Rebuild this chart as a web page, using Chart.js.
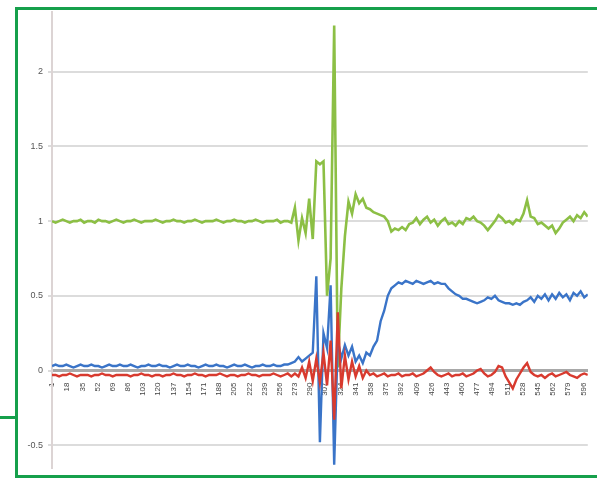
<!DOCTYPE html>
<html>
<head>
<meta charset="utf-8">
<script src="https://cdn.jsdelivr.net/npm/chart.js@4.4.1/dist/chart.umd.min.js"></script>
<style>
  html, body { margin: 0; padding: 0; background: #fff; overflow: hidden; }
  #wrap { position: relative; width: 597px; height: 478px; }
  #marco { position: absolute; left: 15px; top: 7px; width: 620px; height: 471px; box-sizing: border-box; border: 3px solid #16a04b; pointer-events: none; }
  #linea { position: absolute; left: 0; top: 416px; width: 17px; height: 3px; background: #16a04b; }
</style>
</head>
<body>
<div id="wrap">
  <canvas id="myChart" width="597" height="478"></canvas>
  <div id="marco"></div>
  <div id="linea"></div>
</div>
<script>
// etiquetas del eje x (cada 17 muestras)
const etiquetasX = [1, 18, 35, 52, 69, 86, 103, 120, 137, 154, 171, 188, 205, 222, 239, 256, 273, 290,
    307, 324, 341, 358, 375, 392, 409, 426, 443, 460, 477, 494, 511, 528, 545, 562, 579, 596]
const valoresY = [-0.5, 0, 0.5, 1, 1.5, 2]

// una muestra cada 4 puntos
const paso = 4

const verde = [
    1.00, 0.99, 1.00, 1.01, 1.00, 0.99, 1.00, 1.00, 1.01, 0.99,
    1.00, 1.00, 0.99, 1.01, 1.00, 1.00, 0.99, 1.00, 1.01, 1.00,
    0.99, 1.00, 1.00, 1.01, 1.00, 0.99, 1.00, 1.00, 1.00, 1.01,
    1.00, 0.99, 1.00, 1.00, 1.01, 1.00, 1.00, 0.99, 1.00, 1.00,
    1.01, 1.00, 0.99, 1.00, 1.00, 1.00, 1.01, 1.00, 0.99, 1.00,
    1.00, 1.01, 1.00, 1.00, 0.99, 1.00, 1.00, 1.01, 1.00, 0.99,
    1.00, 1.00, 1.00, 1.01, 0.99, 1.00, 1.00, 0.99, 1.09, 0.87,
    1.02, 0.92, 1.15, 0.88, 1.40, 1.38, 1.40, 0.50, 0.75, 2.31,
    0.02, 0.55, 0.90, 1.13, 1.05, 1.18, 1.12, 1.15, 1.09, 1.08,
    1.06, 1.05, 1.04, 1.03, 1.00, 0.93, 0.95, 0.94, 0.96, 0.94,
    0.98, 0.99, 1.02, 0.98, 1.01, 1.03, 0.99, 1.01, 0.97, 1.00,
    1.02, 0.98, 0.99, 0.97, 1.00, 0.98, 1.02, 1.01, 1.03, 1.00,
    0.99, 0.97, 0.94, 0.97, 1.00, 1.04, 1.02, 0.99, 1.00, 0.98,
    1.01, 1.00, 1.05, 1.14, 1.03, 1.02, 0.98, 0.99, 0.97, 0.95,
    0.97, 0.92, 0.95, 0.99, 1.01, 1.03, 1.00, 1.04, 1.02, 1.06, 1.03
]

const azul = [
    0.03, 0.04, 0.03, 0.03, 0.04, 0.03, 0.02, 0.03, 0.04, 0.03,
    0.03, 0.04, 0.03, 0.03, 0.02, 0.03, 0.04, 0.03, 0.03, 0.04,
    0.03, 0.03, 0.04, 0.03, 0.02, 0.03, 0.03, 0.04, 0.03, 0.03,
    0.04, 0.03, 0.03, 0.02, 0.03, 0.04, 0.03, 0.03, 0.04, 0.03,
    0.03, 0.02, 0.03, 0.04, 0.03, 0.03, 0.04, 0.03, 0.03, 0.02,
    0.03, 0.04, 0.03, 0.03, 0.04, 0.03, 0.02, 0.03, 0.03, 0.04,
    0.03, 0.03, 0.04, 0.03, 0.03, 0.04, 0.04, 0.05, 0.06, 0.09,
    0.06, 0.08, 0.10, 0.12, 0.63, -0.48, 0.25, 0.15, 0.57, -0.63,
    0.20, 0.08, 0.17, 0.10, 0.16, 0.06, 0.10, 0.05, 0.12, 0.10,
    0.16, 0.20, 0.33, 0.40, 0.50, 0.55, 0.57, 0.59, 0.58, 0.60,
    0.59, 0.58, 0.60, 0.59, 0.58, 0.59, 0.60, 0.58, 0.59, 0.58,
    0.58, 0.55, 0.53, 0.51, 0.50, 0.48, 0.48, 0.47, 0.46, 0.45,
    0.46, 0.47, 0.49, 0.48, 0.50, 0.47, 0.46, 0.45, 0.45, 0.44,
    0.45, 0.44, 0.46, 0.47, 0.49, 0.46, 0.50, 0.48, 0.51, 0.47,
    0.51, 0.48, 0.52, 0.49, 0.51, 0.47, 0.52, 0.50, 0.53, 0.49, 0.51
]

const rojo = [
    -0.03, -0.03, -0.04, -0.03, -0.03, -0.02, -0.03, -0.04, -0.03, -0.03,
    -0.03, -0.04, -0.03, -0.03, -0.02, -0.03, -0.03, -0.04, -0.03, -0.03,
    -0.03, -0.03, -0.04, -0.03, -0.03, -0.02, -0.03, -0.03, -0.04, -0.03,
    -0.03, -0.04, -0.03, -0.03, -0.02, -0.03, -0.03, -0.04, -0.03, -0.03,
    -0.02, -0.03, -0.03, -0.04, -0.03, -0.03, -0.03, -0.02, -0.03, -0.04,
    -0.03, -0.03, -0.04, -0.03, -0.03, -0.02, -0.03, -0.03, -0.04, -0.03,
    -0.03, -0.03, -0.02, -0.03, -0.04, -0.03, -0.02, -0.04, -0.02, -0.04,
    0.02, -0.05, 0.06, -0.07, 0.08, -0.08, 0.12, -0.10, 0.20, -0.33,
    0.39, -0.12, 0.10, -0.06, 0.06, -0.04, 0.03, -0.05, 0.00, -0.03,
    -0.02, -0.04, -0.03, -0.02, -0.04, -0.03, -0.03, -0.02, -0.04, -0.03,
    -0.03, -0.02, -0.04, -0.03, -0.02, 0.00, 0.02, -0.01, -0.03, -0.04,
    -0.03, -0.02, -0.04, -0.03, -0.03, -0.02, -0.04, -0.03, -0.02, 0.00,
    0.01, -0.02, -0.04, -0.03, -0.01, 0.03, 0.02, -0.04, -0.08, -0.12,
    -0.06, -0.02, 0.02, 0.05, -0.01, -0.03, -0.04, -0.03, -0.05, -0.03,
    -0.02, -0.04, -0.03, -0.02, -0.01, -0.03, -0.04, -0.05, -0.03, -0.02, -0.03
]

function puntos(serie) {
    return serie.map((v, i) => ({ x: 1 + i * paso, y: v }))
}

function serie(datos, color, orden, ancho) {
    return {
        data: puntos(datos),
        borderColor: color,
        borderWidth: ancho,
        pointRadius: 0,
        tension: 0,
        fill: false,
        order: orden
    }
}

const grafica = document.getElementById("myChart").getContext("2d")

const myChart = new Chart(grafica, {
    type: "line",
    data: {
        datasets: [
            serie(verde, "#8cbf45", 3, 2.6),
            serie(azul, "#3a74c8", 2, 2.4),
            serie(rojo, "#d83a2e", 1, 2.4)
        ]
    },
    options: {
        responsive: false,
        animation: false,
        devicePixelRatio: 1,
        layout: { padding: { left: 0, top: 12, right: 7, bottom: 2 } },
        plugins: {
            legend: { display: false },
            tooltip: { enabled: false }
        },
        scales: {
            x: {
                type: "linear",
                min: 1,
                max: 601,
                position: { y: 0 },
                afterBuildTicks: s => { s.ticks = etiquetasX.map(v => ({ value: v })) },
                grid: { display: false },
                border: { display: true, color: "#a8a8a8", width: 3 },
                ticks: {
                    autoSkip: false,
                    minRotation: 90,
                    maxRotation: 90,
                    padding: 4,
                    color: "#444444",
                    font: { family: "'Liberation Sans', Arial", size: 8 },
                    callback: v => String(v)
                }
            },
            y: {
                min: -0.65,
                max: 2.4,
                afterBuildTicks: s => { s.ticks = valoresY.map(v => ({ value: v })) },
                afterFit: s => { s.width = 52 },
                grid: { color: "#dcdcdc", lineWidth: 2, tickLength: 4 },
                border: { display: true, color: "#dcd4d4", width: 2 },
                ticks: {
                    padding: 5,
                    color: "#555555",
                    font: { family: "'Liberation Sans', Arial", size: 9 },
                    callback: v => String(v)
                }
            }
        }
    }
})
</script>
</body>
</html>
